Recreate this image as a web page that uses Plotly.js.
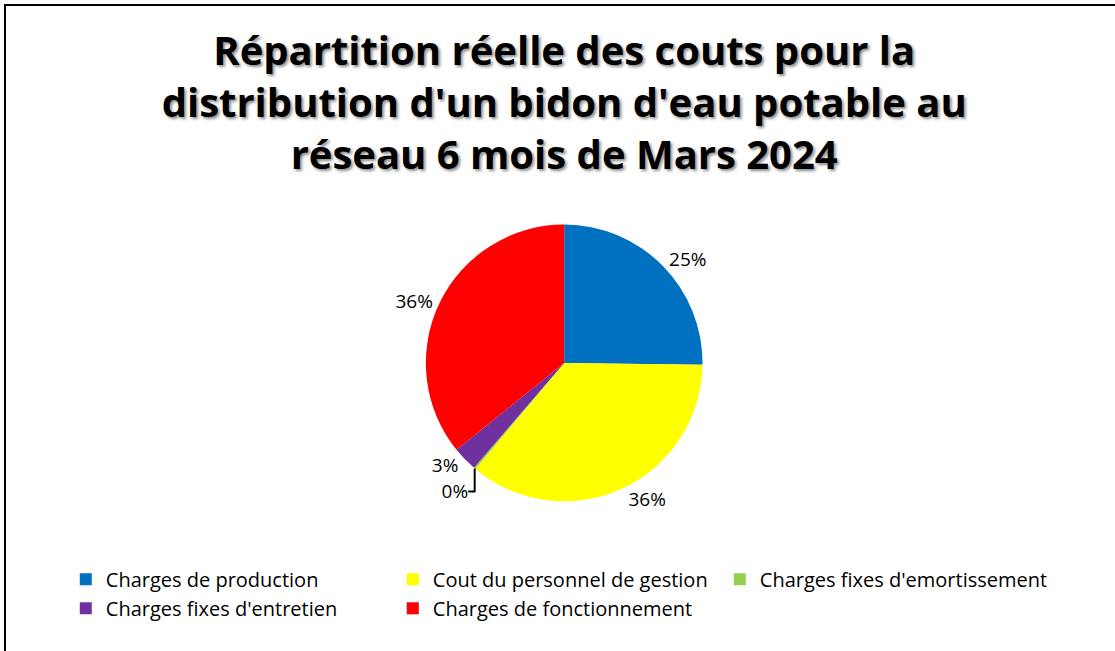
<!DOCTYPE html>
<html>
<head>
<meta charset="utf-8">
<script src="https://cdn.plot.ly/plotly-3.0.1.min.js"></script>
<style>
  html, body { margin: 0; padding: 0; background: #fff; overflow: hidden; }
  #chart { width: 1115px; height: 651px; }
  #frame { position: absolute; left: 4px; top: 4px; width: 1120px; height: 660px;
           border-left: 2px solid #000; border-top: 2px solid #000; pointer-events: none; }
</style>
</head>
<body>
<div id="chart"></div>
<div id="frame"></div>
<script>
const chartTitle = "Répartition réelle des couts pour la<br>distribution d'un bidon d'eau potable au<br>réseau 6 mois de Mars 2024";
const categories = [
  "Charges de production",
  "Cout du personnel de gestion",
  "Charges fixes d'emortissement",
  "Charges fixes d'entretien",
  "Charges de fonctionnement"
];
const shares = [25.2, 35.9, 0.2, 2.9, 35.8];
const sliceColors = ["#0070C0", "#FFFF00", "#92D050", "#7030A0", "#FF0000"];

const FONT = "'Open Sans', 'Noto Sans', sans-serif";

const trace = {
  type: "pie",
  labels: categories,
  values: shares,
  sort: false,
  direction: "clockwise",
  rotation: 0,
  marker: { colors: sliceColors, line: { width: 0 } },
  textinfo: "percent",
  texttemplate: "%{percent:.0%}",
  textposition: "outside",
  outsidetextfont: { family: FONT, size: 19, color: "#000" },
  hoverinfo: "label+percent",
  domain: { x: [0.25, 0.762], y: [0.23, 0.655] },
  showlegend: true
};

const layout = {
  width: 1115,
  height: 651,
  paper_bgcolor: "#fff",
  margin: { l: 0, r: 0, t: 0, b: 0 },
  title: {
    text: chartTitle,
    x: 0.506,
    xanchor: "center",
    y: 0.9,
    yanchor: "top",
    font: { family: FONT, size: 40, weight: 700, color: "#000",
            shadow: "2px 2px 3px rgba(0,0,0,0.45)" }
  },
  showlegend: true,
  legend: {
    orientation: "h",
    x: 0.059,
    xanchor: "left",
    y: 0.14,
    yanchor: "top",
    entrywidth: 282,
    entrywidthmode: "pixels",
    traceorder: "normal",
    font: { family: FONT, size: 20, color: "#000" },
    bgcolor: "rgba(0,0,0,0)"
  }
};

Plotly.newPlot("chart", [trace], layout, { displayModeBar: false, staticPlot: true });
</script>
</body>
</html>
